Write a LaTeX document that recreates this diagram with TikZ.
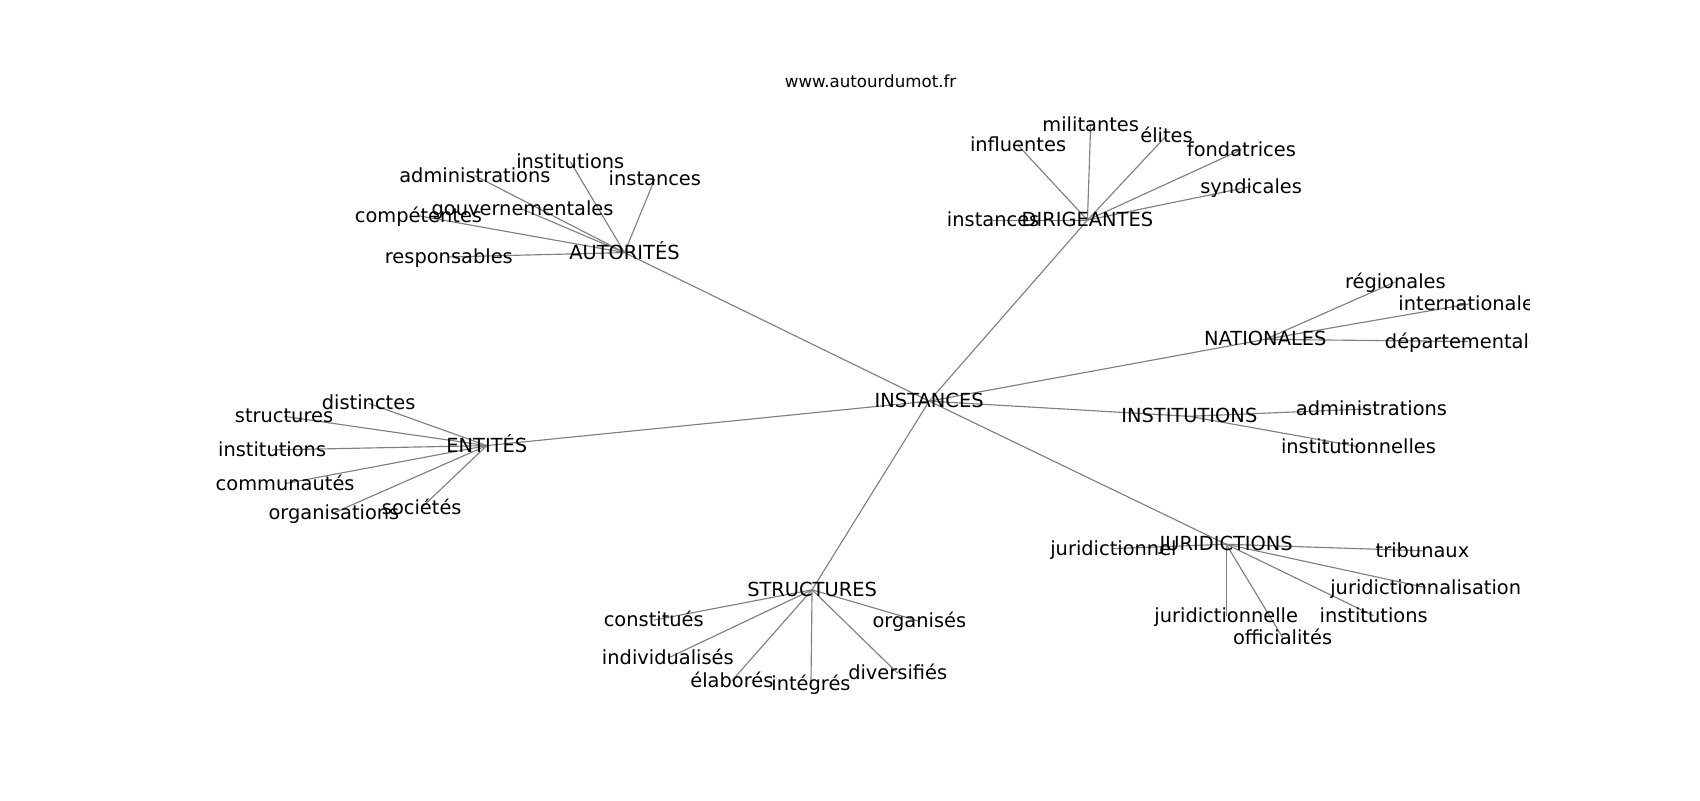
\documentclass[tikz,border=0pt]{standalone}
\usepackage{fontspec}
\setmainfont{DejaVu Sans}
\tikzset{
  lbl/.style={inner sep=0pt, text height=0.76em, text depth=0.24em, anchor=center,
    font=\fontsize{17.9}{21}\selectfont, text=black, yshift=-3.5pt},
  ttl/.style={inner sep=0pt, text height=0.76em, text depth=0.24em, anchor=center,
    font=\fontsize{15.37}{18}\selectfont, text=black},
  edge/.style={draw=black!50, line width=1.05pt}
}
\begin{document}
\begin{tikzpicture}[x=1pt,y=-1pt]
\useasboundingbox[fill=white] (0,0) rectangle (1568,738);
\node[ttl] (title) at (803,78.5) {www.autourdumot.fr};
\begin{scope}
\clip (196,88.6) rectangle (1411,656.8);
% hubs
\coordinate (INS) at (857,370);
\coordinate (AUT) at (576,233);
\coordinate (DIR) at (1003,203);
\coordinate (NAT) at (1167,313);
\coordinate (ITU) at (1097,384);
\coordinate (JUR) at (1131,502);
\coordinate (STR) at (749,544);
\coordinate (ENT) at (449,411);
% leaves
\coordinate (a1) at (438,162);
\coordinate (a2) at (526,149);
\coordinate (a3) at (604,165);
\coordinate (a4) at (482,193);
\coordinate (a5) at (386,199);
\coordinate (a6) at (414,237);
\coordinate (d1) at (939,134);
\coordinate (d2) at (1006,115);
\coordinate (d3) at (1076,125);
\coordinate (d4) at (1145,138);
\coordinate (d5) at (1154,172);
\coordinate (d6) at (916,203);
\coordinate (n1) at (1287,260);
\coordinate (n2) at (1357,280);
\coordinate (n3) at (1354,315);
\coordinate (i1) at (1265,377);
\coordinate (i2) at (1253,412);
\coordinate (j1) at (1027,506);
\coordinate (j2) at (1312,508);
\coordinate (j3) at (1315,542);
\coordinate (j4) at (1267,568);
\coordinate (j5) at (1131,568);
\coordinate (j6) at (1183,588);
\coordinate (s1) at (603,572);
\coordinate (s2) at (616,607);
\coordinate (s3) at (675,628);
\coordinate (s4) at (748,631);
\coordinate (s5) at (828,621);
\coordinate (s6) at (848,573);
\coordinate (e1) at (340,372);
\coordinate (e2) at (262,384);
\coordinate (e3) at (251,415);
\coordinate (e4) at (263,446);
\coordinate (e5) at (308,473);
\coordinate (e6) at (389,468);
% edges
\foreach \h in {AUT,DIR,NAT,ITU,JUR,STR,ENT} \draw[edge] (INS) -- (\h);
\foreach \l in {a1,a2,a3,a4,a5,a6} \draw[edge] (AUT) -- (\l);
\foreach \l in {d1,d2,d3,d4,d5,d6} \draw[edge] (DIR) -- (\l);
\foreach \l in {n1,n2,n3} \draw[edge] (NAT) -- (\l);
\foreach \l in {i1,i2} \draw[edge] (ITU) -- (\l);
\foreach \l in {j1,j2,j3,j4,j5,j6} \draw[edge] (JUR) -- (\l);
\foreach \l in {s1,s2,s3,s4,s5,s6} \draw[edge] (STR) -- (\l);
\foreach \l in {e1,e2,e3,e4,e5,e6} \draw[edge] (ENT) -- (\l);
% labels
\node[lbl] (tINS) at (INS) {INSTANCES};
\node[lbl] (tAUT) at (AUT) {AUTORITÉS};
\node[lbl] (tDIR) at (DIR) {DIRIGEANTES};
\node[lbl] (tNAT) at (NAT) {NATIONALES};
\node[lbl] (tITU) at (ITU) {INSTITUTIONS};
\node[lbl] (tJUR) at (JUR) {JURIDICTIONS};
\node[lbl] (tSTR) at (STR) {STRUCTURES};
\node[lbl] (tENT) at (ENT) {ENTITÉS};
\node[lbl] (ta1) at (a1) {administrations};
\node[lbl] (ta2) at (a2) {institutions};
\node[lbl] (ta3) at (a3) {instances};
\node[lbl] (ta4) at (a4) {gouvernementales};
\node[lbl] (ta5) at (a5) {compétentes};
\node[lbl] (ta6) at (a6) {responsables};
\node[lbl] (td1) at (d1) {influentes};
\node[lbl] (td2) at (d2) {militantes};
\node[lbl] (td3) at (d3) {élites};
\node[lbl] (td4) at (d4) {fondatrices};
\node[lbl] (td5) at (d5) {syndicales};
\node[lbl] (td6) at (d6) {instances};
\node[lbl] (tn1) at (n1) {régionales};
\node[lbl] (tn2) at (n2) {internationales};
\node[lbl] (tn3) at (n3) {départementales};
\node[lbl] (ti1) at (i1) {administrations};
\node[lbl] (ti2) at (i2) {institutionnelles};
\node[lbl] (tj1) at (j1) {juridictionnel};
\node[lbl] (tj2) at (j2) {tribunaux};
\node[lbl] (tj3) at (j3) {juridictionnalisation};
\node[lbl] (tj4) at (j4) {institutions};
\node[lbl] (tj5) at (j5) {juridictionnelle};
\node[lbl] (tj6) at (j6) {officialités};
\node[lbl] (ts1) at (s1) {constitués};
\node[lbl] (ts2) at (s2) {individualisés};
\node[lbl] (ts3) at (s3) {élaborés};
\node[lbl] (ts4) at (s4) {intégrés};
\node[lbl] (ts5) at (s5) {diversifiés};
\node[lbl] (ts6) at (s6) {organisés};
\node[lbl] (te1) at (e1) {distinctes};
\node[lbl] (te2) at (e2) {structures};
\node[lbl] (te3) at (e3) {institutions};
\node[lbl] (te4) at (e4) {communautés};
\node[lbl] (te5) at (e5) {organisations};
\node[lbl] (te6) at (e6) {sociétés};
\end{scope}
\end{tikzpicture}
\end{document}
